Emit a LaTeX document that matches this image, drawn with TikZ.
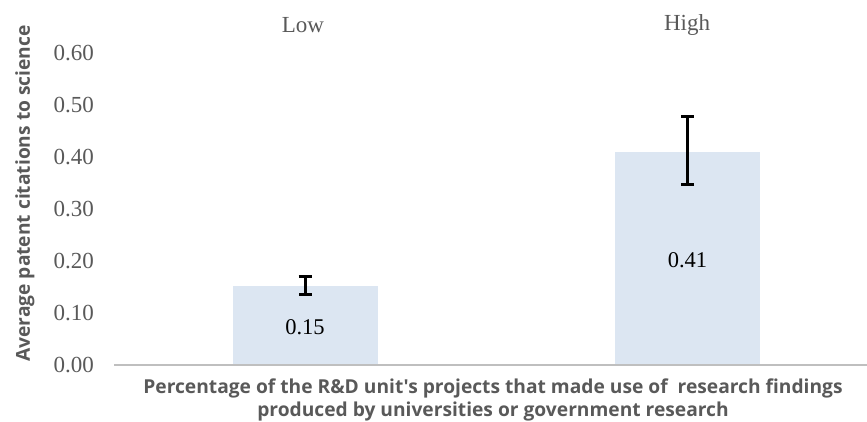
\documentclass[tikz,border=0pt]{standalone}
\usepackage{fontspec}
\setmainfont{Liberation Serif}
\newfontfamily\titlefont{Open Sans}
\usetikzlibrary{arrows.meta}
\definecolor{labelgray}{HTML}{595959}
\definecolor{axisgray}{HTML}{BFBFBF}
\definecolor{barblue}{HTML}{DCE6F2}
\begin{document}
\begin{tikzpicture}[
        x=1pt, y=1pt,
        ticklabel/.style={anchor=east, inner sep=0pt, text=labelgray, font=\fontsize{23}{27}\selectfont},
        catlabel/.style={inner sep=0pt, text=labelgray, font=\fontsize{23}{27}\selectfont},
        vallabel/.style={inner sep=0pt, font=\fontsize{22.5}{26}\selectfont},
        axistitle/.style={inner sep=0pt, text=labelgray, font=\titlefont\bfseries\fontsize{19.2}{23}\selectfont},
        bar/.style={fill=barblue, draw=none, inner sep=0pt, minimum width=145pt, anchor=south},
        axisline/.style={draw=axisgray, line width=1.5pt},
        errbar/.style={line width=3pt, {Bar[width=13pt]}-{Bar[width=13pt]}}
    ]
    \useasboundingbox (0,0) rectangle (867,422);
    % plot area, one unit of y is a citation count of 1
    \begin{scope}[shift={(0,57)}, y=520pt]
        % bars
        \node[bar, minimum height=79pt] (lowbar) at (305,0) {};
        \node[bar, minimum height=213pt] (highbar) at (687.5,0) {};
        % axis
        \coordinate (axisleft) at (114,0);
        \coordinate (axisright) at (867,0);
        \draw[axisline] (axisleft) -- (axisright);
        % tick labels
        \foreach \v [count=\i from 0] in {0.00,0.10,0.20,0.30,0.40,0.50,0.60}
            \node[ticklabel] (tick\i) at (94,\v) {\v};
        % error bars
        \coordinate (lowerrbot) at (305,0.133);
        \coordinate (lowerrtop) at (305,0.173);
        \coordinate (higherrbot) at (687.5,0.344);
        \coordinate (higherrtop) at (687.5,0.481);
        \draw[errbar] (lowerrbot) -- (lowerrtop);
        \draw[errbar] (higherrbot) -- (higherrtop);
    \end{scope}
    % values
    \node[vallabel] (lowval) at ([yshift=-2pt]lowbar.center) {0.15};
    \node[vallabel] (highval) at ([yshift=-2pt]highbar.center) {0.41};
    % categories
    \node[catlabel] (lowcat) at (303,397) {Low};
    \node[catlabel] (highcat) at (687,397) {High};
    % axis titles
    \node[axistitle, rotate=90] (ytitle) at (25,228.5) {Average patent citations to science};
    \node[axistitle, align=center] (xtitle) at (493,22.5)
        {Percentage of the R\&D unit's projects that made use of\ \ research findings\\
         produced by universities or government research};
\end{tikzpicture}
\end{document}
